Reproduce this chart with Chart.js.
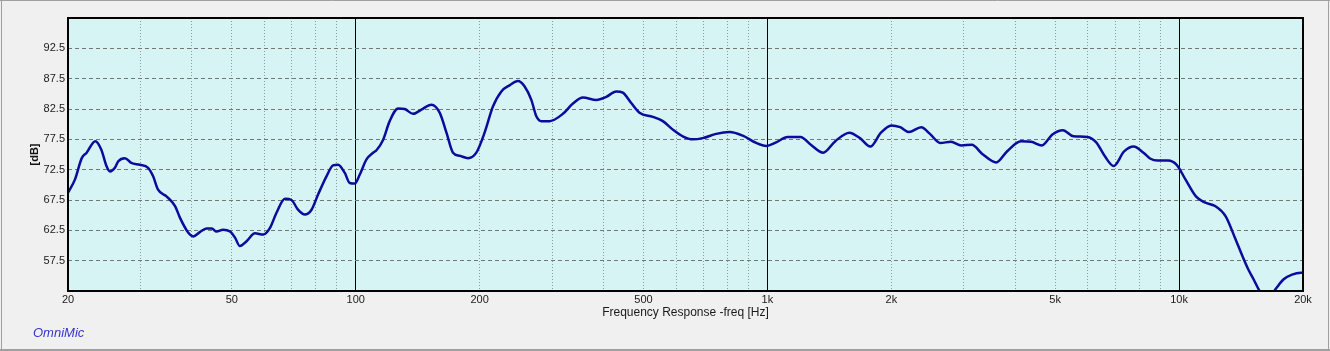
<!DOCTYPE html>
<html><head><meta charset="utf-8">
<script src="https://cdn.jsdelivr.net/npm/chart.js@4.4.0/dist/chart.umd.min.js"></script>
<style>html,body{margin:0;padding:0;background:#f0f0f0;overflow:hidden}#wrap{width:1330px;height:351px;position:relative}</style>
</head><body><div id="wrap"><canvas id="c" width="1330" height="351"></canvas></div>
<script>
// ---- Data ----
const frequencies = [20.0,20.8,21.6,22.2,23.3,24.1,24.8,25.3,26.0,26.5,27.5,28.5,29.9,31.3,32.2,33.1,34.7,36.4,37.4,39.2,40.3,41.8,43.4,44.7,45.9,47.6,49.5,50.9,52.3,54.3,56.9,59.6,61.9,64.2,67.3,69.8,72.4,75.2,78.1,81.0,84.9,88.1,90.6,94.0,96.7,99.5,102.3,106.2,110.2,112.3,116.5,120.9,126.7,131.5,137.8,144.4,152.7,159.9,166.1,172.3,178.9,187.4,196.3,205.6,215.4,225.8,236.4,247.8,257.2,267.0,274.6,282.4,295.8,318.6,337.0,356.3,384.0,406.0,429.4,445.4,466.8,489.0,526.8,557.2,589.2,622.8,658.6,696.6,750.8,809.0,871.2,939.0,993.0,1050,1120,1203,1275,1366,1462,1582,1678,1778,1887,2000,2101,2206,2364,2482,2630,2790,2958,3138,3326,3596,3818,4128,4374,4642,4924,5222,5536,5988,6292,6604,6934,7354,7756,8194,8522,8862,9396,9866,10362,10988,11542,12232,12978,13626,14304,14742,15180,15632,16352,17232,17922,18808,19766,20000];
const splValues = [68.7,70.9,74.4,75.3,77.2,75.8,73.1,72.2,72.8,73.9,74.4,73.6,73.3,72.8,71.4,69.2,68.1,66.5,64.6,62.1,61.5,62.2,62.8,62.8,62.3,62.6,62.3,61.3,59.9,60.7,62.0,61.8,62.9,65.4,67.7,67.5,65.9,65.1,65.9,68.4,71.4,73.2,73.3,72.0,70.3,70.2,71.7,74.2,75.3,75.7,77.4,80.5,82.6,82.5,81.7,82.4,83.2,81.9,78.6,75.3,74.8,74.4,75.3,78.6,82.9,85.4,86.4,87.1,86.2,84.0,81.3,80.5,80.5,81.7,83.4,84.4,84.0,84.5,85.4,85.2,83.5,81.9,81.2,80.5,79.1,78.0,77.5,77.7,78.4,78.7,78.1,76.9,76.4,77.0,77.9,77.9,76.6,75.3,77.2,78.6,77.7,76.3,78.6,79.8,79.5,78.7,79.5,78.4,76.9,77.1,76.5,76.6,75.1,73.7,75.5,77.2,77.1,76.5,78.3,79.0,78.0,77.9,77.0,74.7,73.1,75.5,76.3,75.3,74.3,74.0,74.0,73.3,70.9,68.1,67.1,66.5,64.8,61.5,58.0,56.0,54.4,52.7,51.0,53.0,54.4,55.2,55.5,55.5];

const xGridValues = [20,30,40,50,60,70,80,90,100,200,300,400,500,600,700,800,900,1000,2000,3000,4000,5000,6000,7000,8000,9000,10000,20000];
const xTickLabels = {20:'20',50:'50',100:'100',200:'200',500:'500',1000:'1k',2000:'2k',5000:'5k',10000:'10k',20000:'20k'};
const xMajorLines = [100,1000,10000];
const yGridValues = [52.5,57.5,62.5,67.5,72.5,77.5,82.5,87.5,92.5,97.5];
const yTickLabels = ['','57.5','62.5','67.5','72.5','77.5','82.5','87.5','92.5',''];
const xRange = [20,20000];
const yRange = [52.5,97.5];

const FONT = "'Liberation Sans', Arial, sans-serif";

const decor = {
  id: 'decor',
  beforeDraw(chart) {
    const {ctx, chartArea: a} = chart;
    ctx.save();
    ctx.fillStyle = '#f0f0f0';
    ctx.fillRect(0, 0, chart.width, chart.height);
    ctx.fillStyle = '#d6f4f4';
    ctx.fillRect(a.left, a.top, a.right - a.left, a.bottom - a.top);
    ctx.restore();
  },
  afterDraw(chart) {
    const {ctx, chartArea: a} = chart;
    ctx.save();
    ctx.strokeStyle = '#000';
    ctx.lineWidth = 2;
    ctx.strokeRect(a.left, a.top, a.right - a.left, a.bottom - a.top);
    ctx.strokeStyle = '#a0a0a0';
    ctx.lineWidth = 1;
    ctx.beginPath();
    ctx.moveTo(1.5, 0); ctx.lineTo(1.5, 350);
    ctx.moveTo(0, 0.5); ctx.lineTo(1330, 0.5);
    ctx.moveTo(1328.5, 0); ctx.lineTo(1328.5, 350);
    ctx.stroke();
    ctx.lineWidth = 2;
    ctx.beginPath();
    ctx.moveTo(0, 350); ctx.lineTo(1330, 350);
    ctx.stroke();
    ctx.fillStyle = '#3434c8';
    ctx.font = "italic 13px " + FONT;
    ctx.textBaseline = 'alphabetic';
    ctx.textAlign = 'left';
    ctx.fillText('OmniMic', 33, 336.5);
    ctx.restore();
  }
};

new Chart(document.getElementById('c'), {
  type: 'line',
  data: {
    datasets: [{
      data: frequencies.map((f, i) => ({x: f, y: splValues[i]})),
      borderColor: '#0b0b9c',
      borderWidth: 2.5,
      pointRadius: 0,
      fill: false,
      cubicInterpolationMode: 'monotone',
      clip: 0
    }]
  },
  options: {
    responsive: false,
    animation: false,
    devicePixelRatio: 1,
    layout: {padding: {left: 0, top: 18, right: 27, bottom: 0}},
    plugins: {legend: {display: false}, tooltip: {enabled: false}},
    scales: {
      x: {
        type: 'logarithmic',
        min: xRange[0], max: xRange[1],
        afterBuildTicks: s => { s.ticks = xGridValues.map(v => ({value: v})); },
        afterFit: s => { s.height = 60; },
        ticks: {
          autoSkip: false, maxRotation: 0, minRotation: 0, padding: 2,
          color: '#1a1a1a', font: {family: FONT, size: 11},
          callback: v => xTickLabels[v] || ''
        },
        grid: {
          drawTicks: false,
          lineWidth: 1,
          color: c => {
            const v = c.tick && c.tick.value;
            if (v === xRange[0] || v === xRange[1]) return 'rgba(0,0,0,0)';
            return xMajorLines.includes(v) ? '#000000' : '#8a9c9c';
          }
        },
        border: {
          display: false,
          dash: c => (c.tick && !xMajorLines.includes(c.tick.value)) ? [1, 2] : []
        },
        title: {
          display: true, text: 'Frequency Response -freq [Hz]',
          color: '#1a1a1a', font: {family: FONT, size: 12},
          padding: {top: 0, bottom: 31}
        }
      },
      y: {
        type: 'linear',
        min: yRange[0], max: yRange[1],
        afterBuildTicks: s => { s.ticks = yGridValues.map(v => ({value: v})); },
        afterFit: s => { s.width = 68; },
        ticks: {
          padding: 3, color: '#1a1a1a', font: {family: FONT, size: 11},
          callback: (v, i) => yTickLabels[i]
        },
        grid: {
          drawTicks: false,
          lineWidth: 1,
          color: c => {
            const v = c.tick && c.tick.value;
            if (v === yRange[0] || v === yRange[1]) return 'rgba(0,0,0,0)';
            return '#767676';
          }
        },
        border: {display: false, dash: [4, 3]},
        title: {
          display: true, text: '[dB]',
          color: '#111', font: {family: FONT, size: 11, weight: 'bold'},
          padding: {top: 28, bottom: 0}
        }
      }
    }
  },
  plugins: [decor]
});
</script>
</body></html>
